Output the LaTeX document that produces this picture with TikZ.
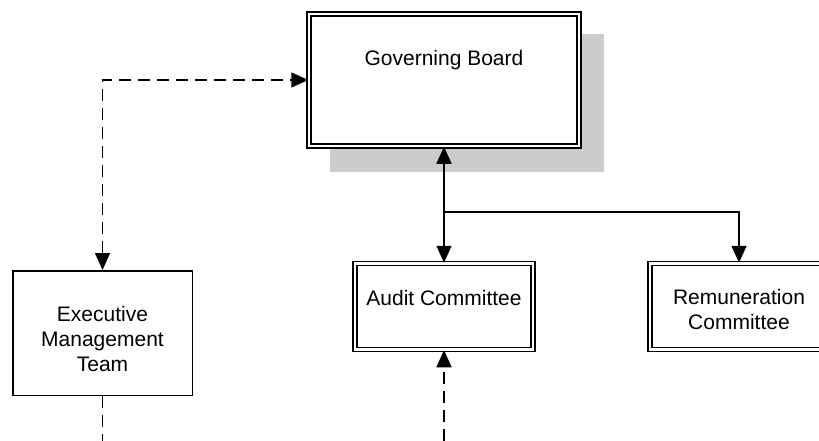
\documentclass[tikz,border=0pt]{standalone}
\usepackage{fontspec}
\setmainfont{Liberation Sans}
\usetikzlibrary{calc,arrows.meta}
\definecolor{shadowgray}{HTML}{CCCCCC}

\begin{document}
\begin{tikzpicture}[x=1pt,y=-1pt,
  >={Triangle[length=17pt,width=15pt]},
  unit/.style={draw,fill=white,line width=1.5pt,align=center,
    font=\fontsize{21}{25}\selectfont},
  board/.style={unit,double,double distance=2.5pt},
  link/.style={line width=1.5pt},
  dashlink/.style={link,dash pattern=on 12pt off 7pt}]
\useasboundingbox (0,0) rectangle (819,441);
\fill[color=shadowgray] (330,34) rectangle (604,172); %shadow
\node[board,minimum width=270pt,minimum height=132pt,
  text height=15pt,text depth=44.5pt] (gb) at (444,80) {Governing Board};
\node[unit,minimum width=179.5pt,minimum height=124.5pt,
  text height=76pt,text depth=0pt] (emt) at (102.5,333)
  {Executive\\Management\\Team};
\node[board,minimum width=178pt,minimum height=86pt,
  text height=15pt,text depth=18pt] (ac) at (444,306.5) {Audit Committee};
\node[board,minimum width=178pt,minimum height=86pt,
  text height=45pt,text depth=0pt] (rc) at (739,306.5)
  {Remuneration\\Committee};
\coordinate (split) at (444,212);
\coordinate (emtfoot) at (102.5,441);
\coordinate (acfoot) at (444,441);
\draw[dashlink,<->] (emt.north) |- (gb.west);
\draw[dashlink] (emt.south) -- (emtfoot);
\draw[dashlink,->] (acfoot) -- (ac.south);
\draw[link,<->] (gb.south) -- (ac.north);
\draw[link,->] (split) -| (rc.north);
\end{tikzpicture}
\end{document}
